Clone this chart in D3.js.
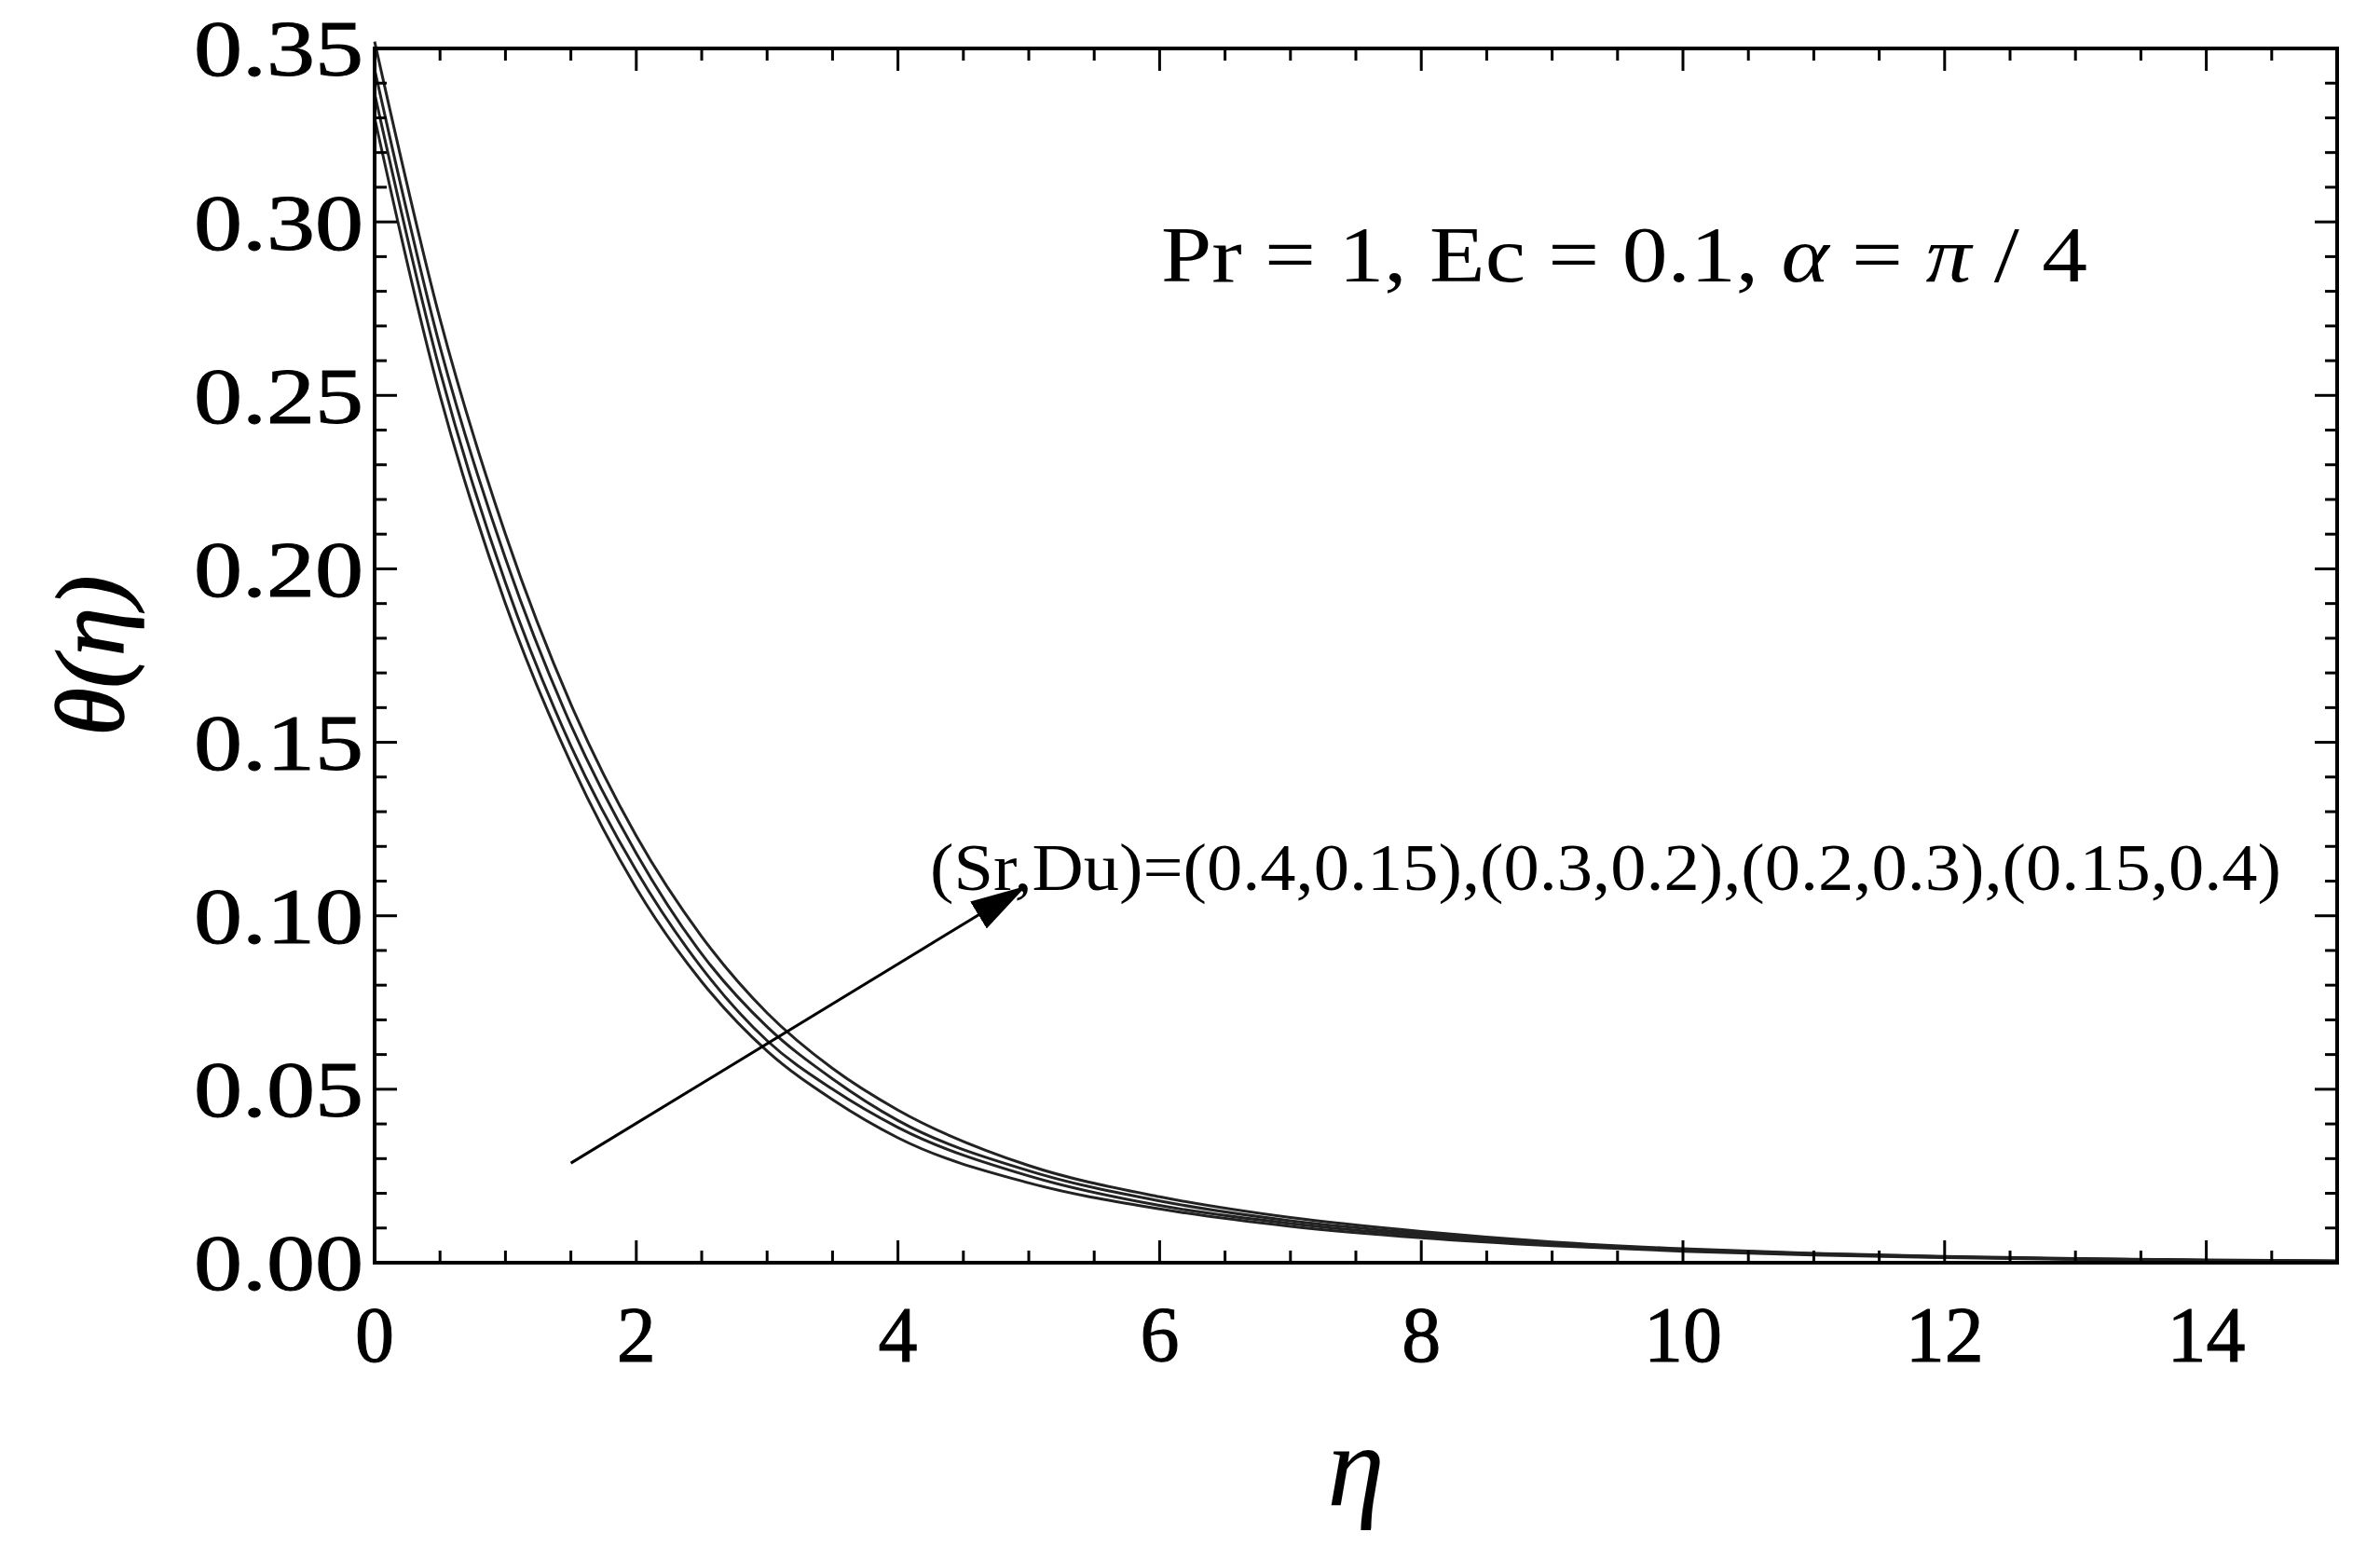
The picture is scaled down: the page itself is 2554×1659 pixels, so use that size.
<!DOCTYPE html>
<html>
<head>
<meta charset="utf-8">
<script src="https://cdn.jsdelivr.net/npm/d3@7"></script>
<style>
  body { margin: 0; background: #fff; }
  text { font-family: "Liberation Serif", "DejaVu Serif", serif; fill: #000; }
</style>
</head>
<body>
<div id="chart"></div>
<script>
const eta = [0, 0.5, 1, 1.5, 2, 2.5, 3, 3.5, 4, 5, 6, 7, 8, 9, 10, 11, 12, 13, 14, 15];
const theta1 = [0.330, 0.250, 0.190, 0.144, 0.108, 0.081, 0.061, 0.047, 0.036, 0.023, 0.0155, 0.0105, 0.0072, 0.0049, 0.0033, 0.0022, 0.0015, 0.0010, 0.0006, 0.0004];
const theta2 = [0.337, 0.257, 0.196, 0.149, 0.113, 0.085, 0.064, 0.050, 0.039, 0.025, 0.0165, 0.0113, 0.0078, 0.0053, 0.0036, 0.0024, 0.0016, 0.0011, 0.0007, 0.0004];
const theta3 = [0.344, 0.264, 0.203, 0.155, 0.118, 0.089, 0.068, 0.053, 0.041, 0.0265, 0.0178, 0.0121, 0.0084, 0.0057, 0.0038, 0.0026, 0.0017, 0.0011, 0.0007, 0.0005];
const theta4 = [0.352, 0.272, 0.210, 0.161, 0.123, 0.094, 0.072, 0.056, 0.044, 0.028, 0.019, 0.013, 0.009, 0.006, 0.004, 0.0027, 0.0018, 0.0012, 0.0008, 0.0005];
const seriesList = [theta1, theta2, theta3, theta4];
const xTicks = [0, 2, 4, 6, 8, 10, 12, 14];
const yTicks = [0, 0.05, 0.10, 0.15, 0.20, 0.25, 0.30, 0.35];
const arrowFrom = [1.5, 0.0287];
const arrowTo = [4.98, 0.1086];

const width = 2554, height = 1659;
const margin = {top: 52, left: 402, right: 46, bottom: 304};

const svg = d3.select("#chart").append("svg")
    .attr("width", width).attr("height", height);

const xScale = d3.scaleLinear().domain([0, 15]).range([margin.left, width - margin.right]);
const yScale = d3.scaleLinear().domain([0, 0.35]).range([height - margin.bottom, margin.top]);
const x0 = xScale(0), x1 = xScale(15), y0 = yScale(0), y1 = yScale(0.35);

svg.append("defs").append("marker")
    .attr("id", "head")
    .attr("viewBox", "0 0 60 34")
    .attr("refX", 60).attr("refY", 17)
    .attr("markerWidth", 60).attr("markerHeight", 34)
    .attr("markerUnits", "userSpaceOnUse")
    .attr("orient", "auto")
    .append("path").attr("d", "M0,0 L60,17 L0,34 Z").attr("fill", "#000");

/* curves */
const line = d3.line()
    .x((d, i) => xScale(eta[i]))
    .y(d => yScale(d))
    .curve(d3.curveMonotoneX);

svg.selectAll(".curve").data(seriesList).enter()
    .append("path")
    .attr("class", "curve")
    .attr("d", d => line(d))
    .attr("fill", "none")
    .attr("stroke", "#222")
    .attr("stroke-width", 3);

/* ticks, inward on all four sides */
const minorX = d3.range(0, 15.01, 0.5);
const minorY = d3.range(0, 0.3501, 0.01);
const ticks = svg.append("g").attr("stroke", "#000").attr("stroke-width", 3);
minorX.forEach(v => {
    const len = xTicks.includes(v) ? 24 : 13;
    ticks.append("line").attr("x1", xScale(v)).attr("x2", xScale(v)).attr("y1", y0).attr("y2", y0 - len);
    ticks.append("line").attr("x1", xScale(v)).attr("x2", xScale(v)).attr("y1", y1).attr("y2", y1 + len);
});
minorY.forEach((v, i) => {
    const len = i % 5 === 0 ? 24 : 13;
    ticks.append("line").attr("y1", yScale(v)).attr("y2", yScale(v)).attr("x1", x0).attr("x2", x0 + len);
    ticks.append("line").attr("y1", yScale(v)).attr("y2", yScale(v)).attr("x1", x1).attr("x2", x1 - len);
});

svg.append("rect")
    .attr("x", x0).attr("y", y1).attr("width", x1 - x0).attr("height", y0 - y1)
    .attr("fill", "none").attr("stroke", "#000").attr("stroke-width", 4);

/* tick labels */
svg.selectAll(".xlab").data(xTicks).enter().append("text")
    .attr("x", d => xScale(d)).attr("y", y0 + 106)
    .attr("text-anchor", "middle").attr("font-size", 84)
    .attr("stroke", "#000").attr("stroke-width", 1)
    .text(d => d);
svg.selectAll(".ylab").data(yTicks).enter().append("text")
    .attr("x", x0 - 12).attr("y", d => yScale(d)).attr("dy", "0.35em")
    .attr("text-anchor", "end").attr("font-size", 84)
    .attr("stroke", "#000").attr("stroke-width", 1)
    .attr("textLength", 182).attr("lengthAdjust", "spacingAndGlyphs")
    .text(d => d.toFixed(2));

/* axis titles */
svg.append("text")
    .attr("x", (x0 + x1) / 2).attr("y", 1615)
    .attr("text-anchor", "middle").attr("font-size", 124).attr("font-style", "italic")
    .text("η");
svg.append("text")
    .attr("transform", `translate(132,${(y0 + y1) / 2}) rotate(-90)`)
    .attr("text-anchor", "middle").attr("font-size", 104).attr("font-style", "italic")
    .attr("stroke", "#000").attr("stroke-width", 1.5)
    .text("θ(η)");

/* annotations */
const ann = svg.append("text").attr("x", 1246).attr("y", 302).attr("font-size", 84)
    .attr("textLength", 994).attr("lengthAdjust", "spacingAndGlyphs");
ann.append("tspan").text("Pr = 1, Ec = 0.1, ");
ann.append("tspan").attr("font-style", "italic").text("α");
ann.append("tspan").text(" = ");
ann.append("tspan").attr("font-style", "italic").text("π");
ann.append("tspan").text(" / 4");

svg.append("text")
    .attr("x", 998).attr("y", 955).attr("font-size", 72)
    .attr("textLength", 1450).attr("lengthAdjust", "spacingAndGlyphs")
    .text("(Sr,Du)=(0.4,0.15),(0.3,0.2),(0.2,0.3),(0.15,0.4)");

svg.append("line")
    .attr("x1", xScale(arrowFrom[0])).attr("y1", yScale(arrowFrom[1]))
    .attr("x2", xScale(arrowTo[0])).attr("y2", yScale(arrowTo[1]))
    .attr("stroke", "#000").attr("stroke-width", 3)
    .attr("marker-end", "url(#head)");
</script>
</body>
</html>
